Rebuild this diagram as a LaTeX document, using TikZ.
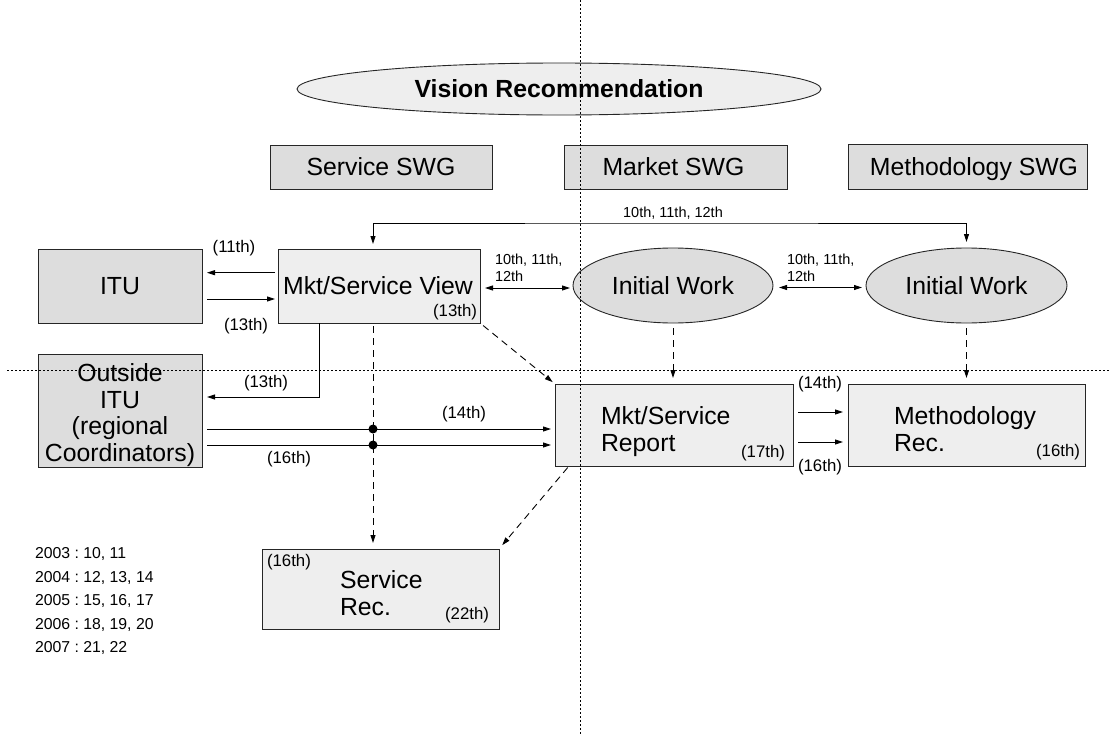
\documentclass[tikz,border=0pt]{standalone}
\usepackage{fontspec}
\setmainfont{Liberation Sans}
\usetikzlibrary{arrows.meta,shapes.geometric,shadows}
\definecolor{boxdark}{HTML}{DDDDDD}
\definecolor{boxlight}{HTML}{EEEEEE}
\newcommand\fBig{\fontsize{24.8}{27}\selectfont}
\newcommand\fMid{\fontsize{16.8}{19}\selectfont}
\newcommand\fSm{\fontsize{14.5}{17}\selectfont}
\newcommand\fYr{\fontsize{15.8}{19}\selectfont}
\frenchspacing
\begin{document}
\begin{tikzpicture}[x=1pt,y=-1pt,
  every node/.style={inner sep=0pt, outer sep=0pt},
  bt/.style={text height=17.8pt, text depth=0pt},
  bshadow/.style={drop shadow={shadow xshift=0.8pt, shadow yshift=-1.3pt, fill=black!45, opacity=1}},
  boxd/.style={draw=black!85, line width=0.9pt, fill=boxdark, rectangle, font=\fBig, bt, bshadow},
  boxl/.style={draw=black!85, line width=0.9pt, fill=boxlight, rectangle, font=\fBig, bshadow},
  ell/.style={draw=black!85, line width=0.9pt, ellipse, font=\fBig, bt},
  arr/.style={-{Triangle[length=8pt,width=5pt]}, line width=0.9pt},
  arrb/.style={{Triangle[length=8pt,width=5pt]}-{Triangle[length=8pt,width=5pt]}, line width=0.9pt},
  darr/.style={arr, dash pattern=on 7pt off 5pt},
  dotl/.style={line width=0.8pt, dash pattern=on 2pt off 2pt},
  lab/.style={font=\fMid},
  slab/.style={font=\fSm},
  ylab/.style={font=\fYr, anchor=west},
  jdot/.style={circle, fill=black, minimum size=9pt},
]
\useasboundingbox (0,0) rectangle (1109,736);

% top row
\node[ell, fill=boxlight, minimum width=524pt, minimum height=52pt, font=\fBig\bfseries] (vision) at (559,89) {Vision Recommendation};
\node[boxd, minimum width=222pt, minimum height=44pt] (sswg) at (381,167) {Service SWG};
\node[boxd, minimum width=223pt, minimum height=44pt] (mswg) at (675.5,167) {};
\node[font=\fBig, bt] (mswgt) at (673.5,167) {Market SWG};
\node[boxd, minimum width=239pt, minimum height=45pt] (mtswg) at (967.5,166.5) {};
\node[font=\fBig, bt] (mtswgt) at (974,167) {Methodology SWG};

% second row
\node[boxd, minimum width=164pt, minimum height=74pt] (itu) at (120,286) {ITU};
\node[boxl, minimum width=202pt, minimum height=74pt] (mview) at (379,286) {};
\node[font=\fBig, bt] (mviewt) at (378,286) {Mkt/Service View};
\node[lab, anchor=east] (mv13) at (477,312) {(13th)};
\node[ell, fill=boxdark, minimum width=200pt, minimum height=75pt] (iw1) at (673,285.5) {Initial Work};
\node[ell, fill=boxdark, minimum width=201pt, minimum height=75pt] (iw2) at (966.5,285.5) {Initial Work};

% third row
\node[boxd, minimum width=164pt, minimum height=113pt] (outside) at (120,410.5) {};
\node[align=center, font=\fontsize{24.8}{26.5}\selectfont] (outsidet) at (120,415) {Outside\\ITU\\(regional\\Coordinators)};
\node[boxl, minimum width=238pt, minimum height=82pt] (report) at (674,425) {};
\node[font=\fBig, align=left, anchor=west] (reportt) at (601,431.5) {Mkt/Service\\Report};
\node[lab, anchor=east] (r17) at (785,453) {(17th)};
\node[boxl, minimum width=237pt, minimum height=82pt] (mrec) at (966.5,425) {};
\node[font=\fBig, align=left, anchor=west] (mrect) at (894,429) {Methodology\\Rec.};
\node[lab, anchor=east] (m16) at (1080,452) {(16th)};

% bottom
\node[boxl, minimum width=237pt, minimum height=80pt] (srec) at (380.5,589) {};
\node[font=\fBig, align=left, anchor=west] (srect) at (340,593.5) {Service\\Rec.};
\node[lab, anchor=west] (s16) at (267,562) {(16th)};
\node[lab, anchor=east] (s22) at (489,615) {(22th)};

% years
\node[ylab] (y3) at (35,554) {2003 : 10, 11};
\node[ylab] (y4) at (35,577.5) {2004 : 12, 13, 14};
\node[ylab] (y5) at (35,601) {2005 : 15, 16, 17};
\node[ylab] (y6) at (35,624.5) {2006 : 18, 19, 20};
\node[ylab] (y7) at (35,648) {2007 : 21, 22};

% connectors
\coordinate (tb) at (673,223);
\draw[arrb, shorten <=5pt, shorten >=6pt] ([xshift=-6pt]mview.north) |- (tb) -| (iw2.north);
\node[slab] (tbl) at (673,213) {10th, 11th, 12th};

\draw[arr, shorten <=3pt, shorten >=5pt] ([yshift=13.3pt]mview.west) -- ([yshift=13.3pt]itu.east);
\draw[arr, shorten <=5pt, shorten >=3pt] ([yshift=-13pt]itu.east) -- ([yshift=-13pt]mview.west);
\node[lab] (l11) at (234,248) {(11th)};
\node[lab] (l13a) at (246,326) {(13th)};

\draw[arrb, shorten <=5pt, shorten >=3pt] ([yshift=-2pt]mview.east) -- ([yshift=-2pt]mview.east -| iw1.west);
\node[slab, align=left, anchor=west] (l101) at (495,268) {10th, 11th,\\12th};
\draw[arrb, shorten <=6pt, shorten >=4pt] ([yshift=-2pt]iw1.east) -- ([yshift=-2pt]iw1.east -| iw2.west);
\node[slab, align=left, anchor=west] (l102) at (787,268) {10th, 11th,\\12th};

\draw[arr, shorten >=5pt] ([xshift=-60pt]mview.south) |- ([yshift=13.5pt]outside.east);
\node[lab] (l13b) at (266,383) {(13th)};

\draw[darr, shorten <=3pt, shorten >=6pt] ([xshift=-6pt]mview.south) -- ([xshift=-6pt]mview.south |- srec.north);

\draw[arr, shorten <=5pt, shorten >=4pt] ([yshift=-18.5pt]outside.east) -- ([yshift=-18.5pt]outside.east -| report.west);
\draw[arr, shorten <=5pt, shorten >=4pt] ([yshift=-34.5pt]outside.east) -- ([yshift=-34.5pt]outside.east -| report.west);
\node[jdot] (d1) at (373,429) {};
\node[jdot] (d2) at (373,445) {};
\node[lab] (l14a) at (464,414) {(14th)};
\node[lab] (l16a) at (289,459) {(16th)};

\draw[darr, shorten <=4pt, shorten >=3pt] (mview.south east) -- (report.north west);
\draw[darr, shorten <=5pt, shorten >=6pt] (iw1.south) -- (iw1.south |- report.north);
\draw[darr, shorten <=5pt, shorten >=6pt] (iw2.south) -- (iw2.south |- mrec.north);
\draw[darr, shorten <=2pt, shorten >=5pt] ([xshift=14pt]report.south west) -- (srec.north east);

\draw[arr, shorten <=5pt, shorten >=5pt] ([yshift=13pt]report.east) -- ([yshift=13pt]report.east -| mrec.west);
\draw[arr, shorten <=5pt, shorten >=5pt] ([yshift=-17pt]report.east) -- ([yshift=-17pt]report.east -| mrec.west);
\node[lab] (l14b) at (820,384) {(14th)};
\node[lab] (l16b) at (820,467) {(16th)};

% dotted separators
\coordinate (vt) at (580,0);
\coordinate (vb) at (580,736);
\coordinate (hl) at (7,370);
\coordinate (hr) at (1109,370);
\draw[dotl] (vt) -- (vb);
\draw[dotl] (hl) -- (hr);
\end{tikzpicture}
\end{document}
